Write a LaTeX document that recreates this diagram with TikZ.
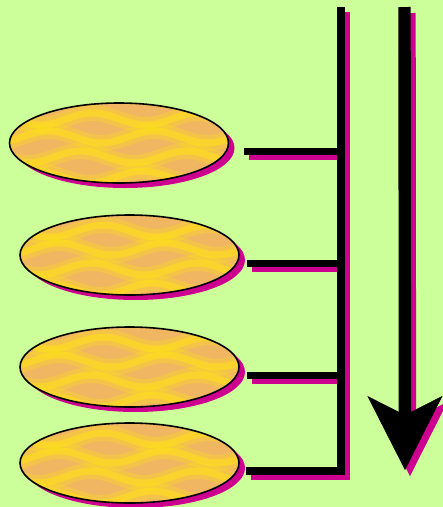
\documentclass[tikz,border=0pt]{standalone}
\usetikzlibrary{shapes.geometric,arrows.meta}
\definecolor{bgreen}{RGB}{204,255,153}
\definecolor{shadowpink}{RGB}{206,0,144}
\definecolor{cakeyellow}{RGB}{255,226,20}
\definecolor{caketan}{RGB}{240,182,98}
\tikzset{
  cake/.style={ellipse, draw=black, line width=1.6pt, inner sep=0pt,
    minimum width=219pt, minimum height=80pt, fill=caketan,
    preaction={fill=shadowpink, transform canvas={xshift=6pt, yshift=-5pt}},
    path picture={
      \begin{scope}[shift={(path picture bounding box.center)}]
        \foreach \dy/\ph in {-24/0, -6/150, 14/40, 34/190}{
          \draw[cakeyellow, line width=16pt, opacity=.3, line cap=round]
            plot[domain=-120:120, samples=60, smooth] (\x, {\dy+6*sin(3.4*\x+\ph)});
          \draw[cakeyellow, line width=7pt, opacity=.55, line cap=round]
            plot[domain=-120:120, samples=60, smooth] (\x, {\dy+6*sin(3.4*\x+\ph)});
        }
      \end{scope}
    }},
  bus/.style={line width=7.6pt, line join=miter,
    preaction={draw=shadowpink, line width=7.6pt, line join=miter,
      transform canvas={xshift=5pt, yshift=-5pt}}},
  flow/.style={line width=12.4pt,
    -{Stealth[length=74pt, width=75pt, inset=19pt, line width=0.5pt]},
    preaction={draw=shadowpink, line width=12.4pt,
      transform canvas={xshift=5pt, yshift=-6pt}}}
}
\begin{document}
\begin{tikzpicture}[x=1pt, y=-1pt]
\useasboundingbox (0,0) rectangle (443,507);
\fill[bgreen] (0,0) rectangle (443,507);
% cakes
\node[cake] (e1) at (119,143) {};
\node[cake] (e2) at (129.5,255) {};
\node[cake] (e3) at (129.5,367) {};
\node[cake] (e4) at (129.5,463) {};
% bus points
\coordinate (btop) at (341,7);
\coordinate (j1) at (341,151.5);
\coordinate (j2) at (341,263.5);
\coordinate (j3) at (341,375.5);
\coordinate (j4) at (341,471);
\coordinate (s1) at ([shift={(15,8.5)}]e1.east);
\coordinate (s2) at ([shift={(7,8.5)}]e2.east);
\coordinate (s3) at ([shift={(7,8.5)}]e3.east);
\coordinate (s4) at ([shift={(6,8)}]e4.east);
\draw[bus] (s1) -- (j1);
\draw[bus] (s2) -- (j2);
\draw[bus] (s3) -- (j3);
\draw[bus] (btop) -- (j4) -- (s4);
% arrow
\coordinate (atop) at (404.5,7);
\coordinate (abot) at (405,470);
\draw[flow] (atop) -- (abot);
\end{tikzpicture}
\end{document}
